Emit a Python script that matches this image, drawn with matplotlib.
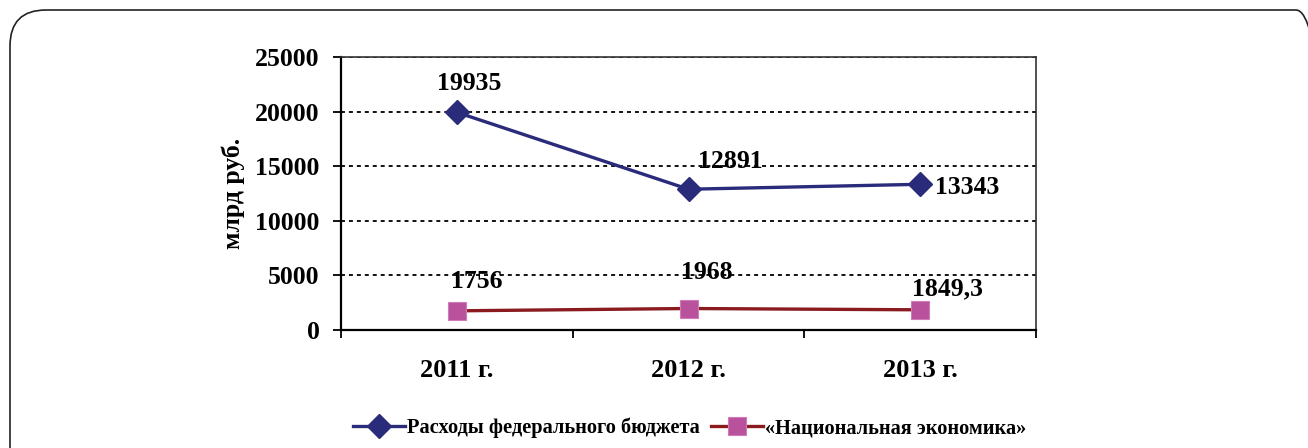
import matplotlib
matplotlib.use('Agg')
import matplotlib.pyplot as plt
from matplotlib.patches import FancyBboxPatch
from matplotlib.transforms import IdentityTransform

# data (млрд руб.)
years = ['2011 г.', '2012 г.', '2013 г.']
budget = [19935, 12891, 13343]
economy = [1756, 1968, 1849.3]
budget_name = 'Расходы федерального бюджета'
economy_name = '«Национальная экономика»'

# label offsets in points (dx, dy)
budget_offsets = [(9, 21), (30, 20), (11, -2)]
economy_offsets = [(14, 21), (13, 26), (20, 15)]
budget_ha = ['center', 'center', 'left']
economy_ha = ['center', 'center', 'center']

NAVY = '#2a2b7a'
MAROON = '#8b1a1f'
PINK = '#b9519c'
FS = 18.5


def fmt(v):
    if float(v).is_integer():
        return str(int(v))
    return str(v).replace('.', ',')


def main():
    plt.rcParams['font.family'] = ['Liberation Serif', 'DejaVu Serif']
    plt.rcParams['font.weight'] = 'bold'

    fig = plt.figure(figsize=(13.08, 4.48), dpi=100)

    # slide frame with rounded corners
    frame = FancyBboxPatch((10, -40), 1322, 478,
                           boxstyle='round,pad=0,rounding_size=36',
                           transform=IdentityTransform(),
                           facecolor='none', edgecolor='#222222', linewidth=1.2, zorder=-1)
    fig.patches.append(frame)

    ax = fig.add_axes([341 / 1308, 1 - 330 / 448, (1036 - 341) / 1308, (330 - 57) / 448])
    ax.set_facecolor('none')

    x = range(len(years))
    ax.plot(x, budget, color=NAVY, lw=2.4, marker='D', ms=12.5, mfc=NAVY, mec=NAVY,
            label=budget_name, zorder=3)
    ax.plot(x, economy, color=MAROON, lw=2.4, marker='s', ms=12.5, mfc=PINK, mec='#d07ab8',
            mew=0.8, label=economy_name, zorder=3)

    for i, v in enumerate(budget):
        ax.annotate(fmt(v), (i, v), xytext=budget_offsets[i], textcoords='offset points',
                    ha=budget_ha[i], va='center', fontsize=FS, fontweight='bold')
    for i, v in enumerate(economy):
        ax.annotate(fmt(v), (i, v), xytext=economy_offsets[i], textcoords='offset points',
                    ha=economy_ha[i], va='center', fontsize=FS, fontweight='bold')

    ax.set_xlim(-0.5, len(years) - 0.5)
    ax.set_ylim(0, 25000)
    ax.set_yticks(range(0, 25001, 5000))
    ax.set_xticks(x)
    ax.set_xticklabels(years)
    ax.set_xticks([-0.5, 0.5, 1.5, 2.5], minor=True)
    ax.tick_params(axis='x', which='major', length=0, pad=21, labelsize=19)
    ax.tick_params(axis='x', which='minor', length=6, width=1.3, direction='out')
    ax.tick_params(axis='y', length=5.5, width=1.3, direction='out', pad=10, labelsize=FS)

    ax.grid(axis='y', color='black', linestyle=(0, (2.2, 2.2)), linewidth=1.3)
    ax.set_axisbelow(True)

    for side in ['left', 'bottom']:
        ax.spines[side].set_linewidth(1.6)
        ax.spines[side].set_color('black')
    for side in ['top', 'right']:
        ax.spines[side].set_linewidth(1.2)
        ax.spines[side].set_color('#333333')

    ax.set_ylabel('млрд руб.', fontsize=FS, fontweight='bold', labelpad=7)

    fig.legend(loc='center', bbox_to_anchor=(690 / 1308, 1 - 428 / 448), ncol=2,
               frameon=False, prop={'size': 14.7, 'weight': 'bold'},
               handlelength=2.55, handletextpad=0.1, columnspacing=0.55)

    fig.savefig('out.png', dpi=100)
    plt.close(fig)


if __name__ == '__main__':
    main()
